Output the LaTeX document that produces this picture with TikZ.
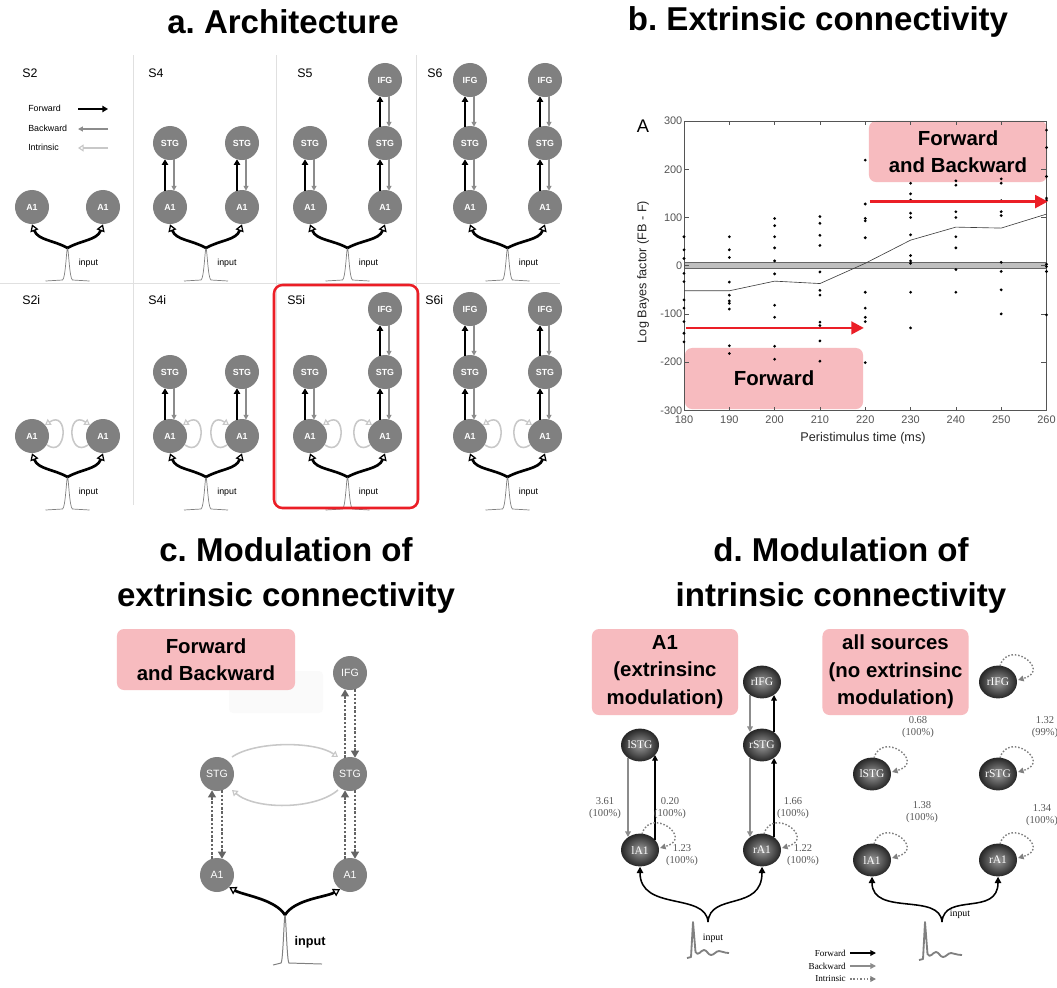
\documentclass[tikz,border=0pt]{standalone}
\usepackage{fontspec}
\setmainfont{Liberation Serif}
\setsansfont{Liberation Sans}
\frenchspacing
\usetikzlibrary{arrows.meta,positioning,shapes.geometric,calc}
\definecolor{hlpink}{RGB}{247,187,191}
\definecolor{regfill}{RGB}{128,128,128}
\definecolor{bwdgray}{RGB}{140,140,140}
\definecolor{intgray}{RGB}{200,200,200}
\definecolor{dotgray}{RGB}{100,100,100}
\definecolor{axgray}{RGB}{85,85,85}
\definecolor{markred}{RGB}{235,30,38}
\tikzset{
  ttl/.style={align=center, inner sep=0pt, font=\sffamily\bfseries\fontsize{23.5}{32}\selectfont},
  hilite/.style={rectangle, rounded corners=5pt, fill=hlpink, align=center, inner sep=0pt,
                 minimum width=4.45cm, minimum height=1.525cm,
                 font=\sffamily\bfseries\fontsize{14.5}{19.5}\selectfont},
  hilitetall/.style={hilite, minimum width=3.65cm, minimum height=2.15cm},
  reg/.style={circle, fill=regfill, minimum size=0.85cm, inner sep=0pt, text=white,
              font=\sffamily\bfseries\fontsize{6.3}{7}\selectfont},
  regc/.style={reg, font=\sffamily\fontsize{7.5}{8}\selectfont},
  src/.style={ellipse, inner color=black!40, outer color=black!85, minimum width=0.95cm,
              minimum height=0.82cm, inner sep=0pt, text=white, font=\fontsize{8.2}{9}\selectfont},
  plab/.style={anchor=west, inner sep=0pt, font=\sffamily\fontsize{8.8}{10}\selectfont},
  tiny/.style={inner sep=0pt, font=\sffamily\fontsize{6.3}{7}\selectfont},
  sep/.style={draw=black!12, line width=0.5pt},
  fwd/.style={draw=black, line width=1.3pt, -{Triangle[length=4pt,width=4.5pt]}},
  bwd/.style={draw=bwdgray, line width=0.8pt, -{Triangle[length=3.5pt,width=3.5pt]}},
  intr/.style={draw=intgray, line width=1.1pt, -{Triangle[open,length=4pt,width=5pt,line width=0.8pt]}},
  inarr/.style={draw=black, line width=1.9pt, -{Triangle[open,length=5pt,width=6pt,line width=0.9pt]}},
  spk/.style={draw=gray, line width=0.5pt},
  redframe/.style={draw=markred, line width=1.8pt, rounded corners=6pt},
  % panel b
  axln/.style={draw=axgray, line width=0.5pt},
  ticklab/.style={text=axgray, inner sep=1pt, font=\sffamily\fontsize{7.8}{8}\selectfont},
  axlab/.style={text=black!85, inner sep=0pt, font=\sffamily\fontsize{9}{10}\selectfont},
  redarr/.style={draw=markred, line width=2pt, -{Triangle[length=9pt,width=9pt]}},
  meanln/.style={draw=black!75, line width=0.45pt},
  % panel c
  dotfb/.style={draw=dotgray, line width=1.7pt, dash pattern=on 1.7pt off 1.3pt,
                -{Triangle[length=5pt,width=5.5pt]}},
  intc/.style={draw=intgray, line width=1.1pt, -{Triangle[open,length=4pt,width=5pt,line width=0.8pt]}},
  % panel d
  dfwd/.style={draw=black, line width=0.9pt, -{Triangle[length=4pt,width=4pt]}},
  dbwd/.style={draw=bwdgray, line width=0.9pt, -{Triangle[length=4pt,width=4pt]}},
  dloop/.style={draw=gray, line width=1pt, dash pattern=on 1.1pt off 1.3pt,
                -{Triangle[length=4pt,width=4pt]}},
  dinp/.style={draw=black, line width=1.1pt, -{Triangle[length=4.5pt,width=4.5pt]}},
  dspk/.style={draw=gray, line width=1.3pt, line join=round},
  numlab/.style={align=center, inner sep=0pt, text=black!65, font=\fontsize{7.5}{8.5}\selectfont},
  leg/.style={inner sep=0pt, anchor=east, font=\fontsize{6.5}{7}\selectfont},
}

\begin{document}
\begin{tikzpicture}[x=0.025cm,y=-0.025cm]
\useasboundingbox (0,0) rectangle (1057,987);
\fill[white] (0,0) rectangle (1057,987);

% ================= titles =================
\node[ttl] (ta) at (283,22) {a. Architecture};
\node[ttl] (tb) at (818,22) {b. Extrinsic connectivity};
\node[ttl] (tc) at (286,575) {c. Modulation of\\extrinsic connectivity};
\node[ttl] (td) at (841,575) {d. Modulation of\\intrinsic connectivity};

% ================= a: model space =================
\foreach \x in {133,276,416} {\draw[sep] (\x,55) -- (\x,505);}
\draw[sep] (0,283) -- (560,283);

\node[tiny, anchor=west] (lgfw) at (28,108) {Forward};
\node[tiny, anchor=west] (lgbw) at (28,128) {Backward};
\node[tiny, anchor=west] (lgin) at (28,147) {Intrinsic};
\draw[fwd] ($(lgfw.west)+(50,1)$) -- ++(30,0);
\draw[bwd] ($(lgbw.west)+(80,1)$) -- ++(-30,0);
\draw[intr] ($(lgin.west)+(80,1)$) -- ++(-30,0);

\foreach \nm/\lab/\tx/\ty/\lx/\rx/\by/\lt/\rt/\ii in {
    s2/S2/22/73/32/103/207/1/1/0,
    s4/S4/148/73/170/242/207/2/2/0,
    s5/S5/297/73/310/385/207/2/3/0,
    s6/S6/427/73/470/545/207/3/3/0,
    s2i/S2i/22/300/32/103/436/1/1/1,
    s4i/S4i/148/300/170/242/436/2/2/1,
    s5i/S5i/287/300/310/385/436/2/3/1,
    s6i/S6i/425/300/470/545/436/3/3/1} {
  \pgfmathsetmacro{\sx}{(\lx+\rx)/2}
  \node[plab] (\nm) at (\tx,\ty) {\lab};
  \node[reg] (\nm-la) at (\lx,\by) {A1};
  \node[reg] (\nm-ra) at (\rx,\by) {A1};
  % left column
  \ifnum\lt>1
    \node[reg] (\nm-ls) at (\lx,{\by-64}) {STG};
    \draw[fwd] ($(\nm-la.north)+(-5,1)$) -- ($(\nm-ls.south)+(-5,-1)$);
    \draw[bwd] ($(\nm-ls.south)+(4,-1)$) -- ($(\nm-la.north)+(4,1)$);
  \fi
  \ifnum\lt>2
    \node[reg] (\nm-lf) at (\lx,{\by-127}) {IFG};
    \draw[fwd] ($(\nm-ls.north)+(-5,1)$) -- ($(\nm-lf.south)+(-5,-1)$);
    \draw[bwd] ($(\nm-lf.south)+(4,-1)$) -- ($(\nm-ls.north)+(4,1)$);
  \fi
  % right column
  \ifnum\rt>1
    \node[reg] (\nm-rs) at (\rx,{\by-64}) {STG};
    \draw[fwd] ($(\nm-ra.north)+(-5,1)$) -- ($(\nm-rs.south)+(-5,-1)$);
    \draw[bwd] ($(\nm-rs.south)+(4,-1)$) -- ($(\nm-ra.north)+(4,1)$);
  \fi
  \ifnum\rt>2
    \node[reg] (\nm-rf) at (\rx,{\by-127}) {IFG};
    \draw[fwd] ($(\nm-rs.north)+(-5,1)$) -- ($(\nm-rf.south)+(-5,-1)$);
    \draw[bwd] ($(\nm-rf.south)+(4,-1)$) -- ($(\nm-rs.north)+(4,1)$);
  \fi
  % intrinsic loops
  \ifnum\ii=1
    \draw[intr] ($(\nm-la)+(15,9)$) .. controls ($(\nm-la)+(35,23)$) and ($(\nm-la)+(37,-27)$) .. ($(\nm-la)+(13,-11)$);
    \draw[intr] ($(\nm-ra)+(-15,9)$) .. controls ($(\nm-ra)+(-35,23)$) and ($(\nm-ra)+(-37,-27)$) .. ($(\nm-ra)+(-13,-11)$);
  \fi
  % input
  \coordinate (\nm-sp) at (\sx,{\by+41});
  \draw[spk] ($(\nm-sp)+(-22,33)$) -- ($(\nm-sp)+(-5,32)$) .. controls ($(\nm-sp)+(-2,31)$) and ($(\nm-sp)+(-1,0)$) .. (\nm-sp)
             .. controls ($(\nm-sp)+(1,0)$) and ($(\nm-sp)+(2,31)$) .. ($(\nm-sp)+(5,32)$) -- ($(\nm-sp)+(22,33)$);
  \draw[inarr] (\nm-sp) .. controls ($(\nm-sp)+(-14,-8)$) and ($(\nm-la.south)+(6,16)$) .. (\nm-la.south);
  \draw[inarr] (\nm-sp) .. controls ($(\nm-sp)+(14,-8)$) and ($(\nm-ra.south)+(-6,16)$) .. (\nm-ra.south);
  \node[tiny, anchor=west] (\nm-in) at ($(\nm-sp)+(11,15)$) {input};
}
\draw[redframe] (274,285) rectangle (418,508);

% ================= b: Bayes factor over time =================
\node[hilite] (fbbox) at (958,151.5) {Forward\\and Backward};
\node[hilite] (fbox) at (774,378.5) {Forward};
\node[inner sep=0pt, font=\sffamily\fontsize{13}{14}\selectfont] (plA) at (643,126) {A};
\node[axlab, rotate=90] (ylab) at (643,272) {Log Bayes factor (FB - F)};
\node[axlab] (xlab) at (863,438) {Peristimulus time (ms)};

\begin{scope}[shift={(684,265.7)}, x=0.11325cm, y=0.01205cm, xshift=-20.385cm]
  \fill[gray!50] (180,-5) rectangle (260,7);
  \draw[black!60, line width=0.4pt] (180,-5) -- (260,-5) (180,7) -- (260,7);
  \draw[axln] (180,-300) rectangle (260,300);
  \foreach \t in {180,190,...,260} {
    \draw[axln] (\t,-300) -- ++(0,8);
    \draw[axln] (\t,300) -- ++(0,-8);
    \node[ticklab, below, yshift=-2.5pt] (bx\t) at (\t,-300) {\t};
  }
  \foreach \v in {-300,-200,...,300} {
    \draw[axln] (180,\v) -- ++(1.2,0);
    \draw[axln] (260,\v) -- ++(-1.2,0);
    \node[ticklab, left] (by\v) at (180,\v) {\v};
  }
  \draw[meanln] plot coordinates {(180,-52) (190,-52) (200,-32) (210,-37) (220,5) (230,53) (240,80) (250,78) (260,107)};
  \foreach \t/\vals in {
      180/{60,33,15,-16,-33,-71,-88,-116,-140,-158},
      190/{60,33,17,-34,-61,-73,-78,-90,-166,-182},
      200/{98,83,60,37,10,-17,-82,-107,-167,-194},
      210/{102,88,63,42,-13,-51,-61,-117,-124,-156,-198},
      220/{219,128,98,93,58,-55,-88,-107,-116,-201},
      230/{171,149,136,109,100,64,21,10,5,-55,-129},
      240/{176,167,112,100,60,37,-8,-55},
      250/{180,171,135,112,104,7,-12,-50,-100},
      260/{281,245,185,140,136,3,-2,-12,-102}} {
    \foreach \v in \vals {\fill (\t,\v) circle (1.1pt);}
  }
  \draw[redarr] (180.5,-129) -- (219.7,-129);
  \draw[redarr] (221,133) -- (260.3,133);
\end{scope}

% ================= c: extrinsic modulation =================
\fill[gray!4, rounded corners=3pt] (229,671) rectangle (323,713);
\node[hilite] (cbox) at (206,659.5) {Forward\\and Backward};
\node[regc] (cifg) at (350,673) {IFG};
\node[regc] (crs) at (350,774) {STG};
\node[regc] (cls) at (217,774) {STG};
\node[regc] (cla) at (217,875) {A1};
\node[regc] (cra) at (350,875) {A1};
\foreach \lo/\up in {cla/cls, cra/crs, crs/cifg} {
  \draw[dotfb] ($(\lo.north)+(-5,1)$) -- ($(\up.south)+(-5,-1)$);
  \draw[dotfb] ($(\up.south)+(5,-1)$) -- ($(\lo.north)+(5,1)$);
}
\draw[intc] ($(cls)+(15,-17)$) .. controls ($(cls)+(38,-33)$) and ($(crs)+(-35,-33)$) .. ($(crs)+(-12,-17)$);
\draw[intc] ($(crs)+(-12,16)$) .. controls ($(crs)+(-35,36)$) and ($(cls)+(38,36)$) .. ($(cls)+(15,16)$);
\coordinate (csp) at (285,915);
\draw[spk, line width=0.7pt] (273,965) -- (281,963) .. controls (283,962) and (284,917) .. (csp)
      .. controls (286,917) and (287,962) .. (289,963) -- (322,964);
\draw[inarr] (csp) .. controls ($(csp)+(-10,-16)$) and ($(cla.-45)+(14,8)$) .. (cla.-45);
\draw[inarr] (csp) .. controls ($(csp)+(10,-16)$) and ($(cra.-125)+(-14,8)$) .. (cra.-125);
\node[inner sep=0pt, font=\sffamily\bfseries\fontsize{9}{10}\selectfont] (cin) at (310,942) {input};

% ================= d: intrinsic modulation =================
\node[hilitetall] (xmbox) at (665,672) {A1\\(extrinsinc\\modulation)};
\node[hilitetall] (imbox) at (895.5,672) {all sources\\(no extrinsinc\\modulation)};

% -- left: A1 with extrinsic modulation
\node[src] (xm-rifg) at (762,682) {rIFG};
\node[src] (xm-lstg) at (640,745) {lSTG};
\node[src] (xm-rstg) at (762,745) {rSTG};
\node[src] (xm-la) at (640,850) {lA1};
\node[src] (xm-ra) at (762,850) {rA1};
\draw[dbwd] ($(xm-lstg)+(-12,13)$) -- ($(xm-la)+(-12,-13)$);
\draw[dfwd] ($(xm-la)+(15,-10)$) -- ($(xm-lstg)+(15,10)$);
\draw[dbwd] ($(xm-rifg)+(-12,13)$) -- ($(xm-rstg)+(-12,-13)$);
\draw[dfwd] ($(xm-rstg)+(12,-13)$) -- ($(xm-rifg)+(12,13)$);
\draw[dbwd] ($(xm-rstg)+(-12,13)$) -- ($(xm-ra)+(-12,-13)$);
\draw[dfwd] ($(xm-ra)+(12,-13)$) -- ($(xm-rstg)+(12,13)$);
\foreach \n in {xm-la, xm-ra} {
  \draw[dloop] ($(\n)+(2,-16)$) .. controls ($(\n)+(10,-44)$) and ($(\n)+(55,-12)$) .. ($(\n)+(20,-2)$);
}
\node[numlab] (xm-v1) at (605,808) {3.61\\(100\%)};
\node[numlab] (xm-v2) at (670,808) {0.20\\(100\%)};
\node[numlab] (xm-v3) at (682,855) {1.23\\(100\%)};
\node[numlab] (xm-v4) at (793,808) {1.66\\(100\%)};
\node[numlab] (xm-v5) at (803,855) {1.22\\(100\%)};
\coordinate (xm-sp) at (708,922);
\draw[dinp] (xm-sp) .. controls ($(xm-sp)+(-2,-30)$) and ($(xm-la.south)+(0,45)$) .. (xm-la.south);
\draw[dinp] (xm-sp) .. controls ($(xm-sp)+(2,-30)$) and ($(xm-ra.south)+(0,45)$) .. (xm-ra.south);
\draw[dspk] (687,958) -- (691,957) -- (693,922) -- (695.5,952) .. controls (698,957) and (701,950) .. (704,950)
      .. controls (707,950) and (708,955) .. (711,955) .. controls (714,955) and (716,951) .. (719,951)
      .. controls (722,951) and (724,953) .. (729,953);
\node[inner sep=0pt, font=\fontsize{7}{8}\selectfont] (xm-in) at (713,938) {input};

% -- right: all sources, no extrinsic modulation
\node[src] (im-rifg) at (998,682) {rIFG};
\node[src] (im-lstg) at (872,774) {lSTG};
\node[src] (im-rstg) at (998,774) {rSTG};
\node[src] (im-la) at (872,860) {lA1};
\node[src] (im-ra) at (998,860) {rA1};
\foreach \n in {im-rifg, im-lstg, im-rstg, im-la, im-ra} {
  \draw[dloop] ($(\n)+(2,-16)$) .. controls ($(\n)+(10,-44)$) and ($(\n)+(55,-12)$) .. ($(\n)+(20,-2)$);
}
\node[numlab] (im-v1) at (918,727) {0.68\\(100\%)};
\node[numlab] (im-v2) at (1045,727) {1.32\\(99\%)};
\node[numlab] (im-v3) at (922,812) {1.38\\(100\%)};
\node[numlab] (im-v4) at (1042,815) {1.34\\(100\%)};
\coordinate (im-sp) at (942,922);
\draw[dinp] (im-sp) .. controls ($(im-sp)+(-2,-30)$) and ($(im-la.south)+(0,40)$) .. (im-la.south);
\draw[dinp] (im-sp) .. controls ($(im-sp)+(2,-30)$) and ($(im-ra.south)+(0,40)$) .. (im-ra.south);
\draw[dspk] (919,960) -- (923,959) -- (925,922) -- (927.5,954) .. controls (930,959) and (933,952) .. (936,952)
      .. controls (939,952) and (940,957) .. (943,957) .. controls (946,957) and (948,953) .. (951,953)
      .. controls (954,953) and (956,955) .. (962,955);
\node[inner sep=0pt, font=\fontsize{7}{8}\selectfont] (im-in) at (960,914) {input};

% -- legend
\node[leg] (lg-f) at (846,953) {Forward};
\node[leg] (lg-b) at (846,966) {Backward};
\node[leg] (lg-i) at (846,979) {Intrinsic};
\draw[dfwd] ($(lg-f.east)+(4,0)$) -- ++(26,0);
\draw[dbwd] ($(lg-b.east)+(4,0)$) -- ++(26,0);
\draw[dloop] ($(lg-i.east)+(4,0)$) -- ++(26,0);

\end{tikzpicture}
\end{document}
